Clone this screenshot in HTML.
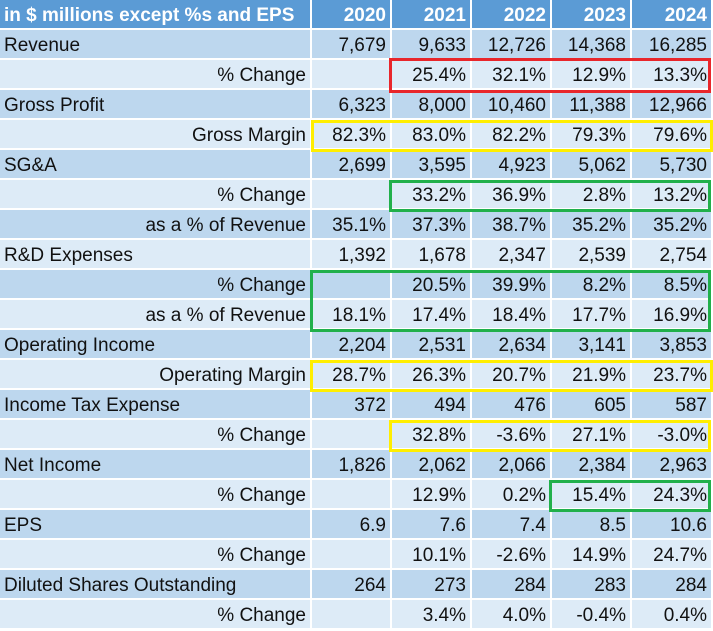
<!DOCTYPE html>
<html><head><meta charset="utf-8"><style>
body{margin:0;width:713px;height:631px;overflow:hidden;background:#fff;font-family:"Liberation Sans",sans-serif;}
#t{position:absolute;left:0;top:0;width:713px;height:631px;}
.c{position:absolute;box-sizing:border-box;border-right:2px solid #fff;border-bottom:2px solid #fff;font-size:19px;line-height:28px;color:#111;white-space:nowrap;overflow:hidden;padding:0 4px;}
.h{background:#5b9bd5;color:#fff;font-weight:bold;font-size:19px;}
.box{position:absolute;box-sizing:border-box;border:3px solid;}
</style></head><body>
<div id="t"></div>
<script>
const years=["2020","2021","2022","2023","2024"];
const labels=["Revenue","% Change","Gross Profit","Gross Margin","SG&A","% Change","as a % of Revenue","R&D Expenses","% Change","as a % of Revenue","Operating Income","Operating Margin","Income Tax Expense","% Change","Net Income","% Change","EPS","% Change","Diluted Shares Outstanding","% Change"];
const indent=[0,1,0,1,0,1,1,0,1,1,0,1,0,1,0,1,0,1,0,1];
const values=[
["7,679","9,633","12,726","14,368","16,285"],
["","25.4%","32.1%","12.9%","13.3%"],
["6,323","8,000","10,460","11,388","12,966"],
["82.3%","83.0%","82.2%","79.3%","79.6%"],
["2,699","3,595","4,923","5,062","5,730"],
["","33.2%","36.9%","2.8%","13.2%"],
["35.1%","37.3%","38.7%","35.2%","35.2%"],
["1,392","1,678","2,347","2,539","2,754"],
["","20.5%","39.9%","8.2%","8.5%"],
["18.1%","17.4%","18.4%","17.7%","16.9%"],
["2,204","2,531","2,634","3,141","3,853"],
["28.7%","26.3%","20.7%","21.9%","23.7%"],
["372","494","476","605","587"],
["","32.8%","-3.6%","27.1%","-3.0%"],
["1,826","2,062","2,066","2,384","2,963"],
["","12.9%","0.2%","15.4%","24.3%"],
["6.9","7.6","7.4","8.5","10.6"],
["","10.1%","-2.6%","14.9%","24.7%"],
["264","273","284","283","284"],
["","3.4%","4.0%","-0.4%","0.4%"]];
const t=document.getElementById('t');
const colX=[0,312,392,472,552,632,713];
const rowH=30;
function cell(x,y,w,txt,cls,align,bg){
  const d=document.createElement('div');
  d.className='c'+(cls?' '+cls:'');
  d.style.left=x+'px';d.style.top=y+'px';d.style.width=w+'px';d.style.height=rowH+'px';
  d.style.textAlign=align;d.style.lineHeight='31px';
  if(bg)d.style.background=bg;
  d.textContent=txt;
  t.appendChild(d);return d;
}
let d=cell(0,0,312,"in $ millions except %s and EPS","h","left");


years.forEach((y,i)=>{
  const e=cell(colX[i+1],0,colX[i+2]-colX[i+1],y,"h","right");
  
  
});
labels.forEach((l,r)=>{
  const top=rowH*(r+1);
  const bg=r%2===0?'#bdd7ee':'#ddebf7';
  const e=cell(0,top,312,l,"",indent[r]?"right":"left",bg);
  
  
  values[r].forEach((v,i)=>{
    const c=cell(colX[i+1],top,colX[i+2]-colX[i+1],v,"","right",bg);
    
    
  });
});
const boxes=[
[389,58,711,93,'#e8262b','red-highlight'],
[311,120,713,152,'#ffee00','gross-margin-highlight'],
[389,180,711,212,'#21b04b','sga-change-highlight'],
[310,270,711,332,'#21b04b','rd-highlight'],
[310,360,713,392,'#ffee00','operating-margin-highlight'],
[389,420,711,452,'#ffee00','tax-change-highlight'],
[549,480,711,512,'#21b04b','net-income-change-highlight']];
boxes.forEach(b=>{
  const e=document.createElement('div');
  e.className='box';
  e.style.left=b[0]+'px';e.style.top=b[1]+'px';e.style.width=(b[2]-b[0])+'px';e.style.height=(b[3]-b[1])+'px';e.style.borderColor=b[4];
  
  
  t.appendChild(e);
});
</script>
</body></html>
